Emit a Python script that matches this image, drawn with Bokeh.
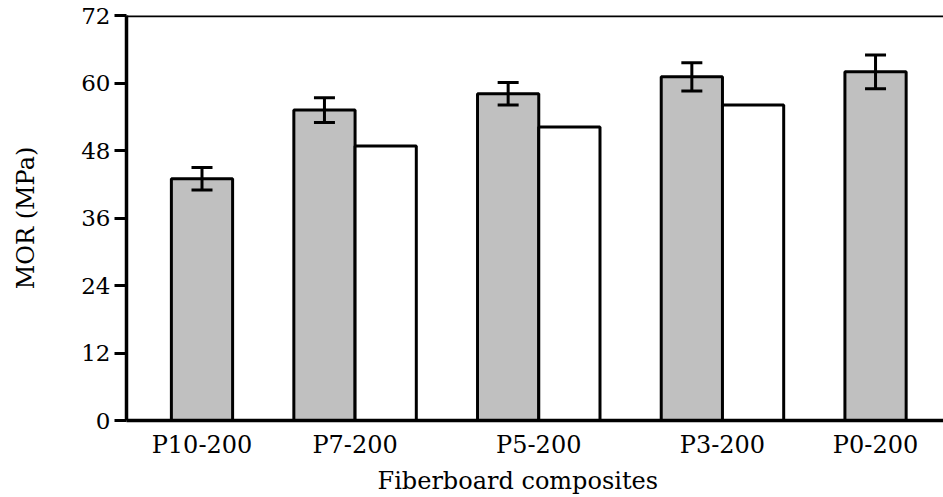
from bokeh.plotting import figure
from bokeh.models import (ColumnDataSource, Range1d, FixedTicker, Span, Whisker, TeeHead, Title)
from bokeh.embed import file_html
from bokeh.resources import INLINE

# ---- data ----
groups = ["P10-200", "P7-200", "P5-200", "P3-200", "P0-200"]
gray_values = [43.0, 55.2, 58.1, 61.1, 62.0]
gray_errors = [2.0, 2.2, 2.0, 2.5, 3.0]
white_values = [None, 48.8, 52.2, 56.1, None]
y_ticks = [0, 12, 24, 36, 48, 60, 72]

# ---- layout of bar slots (one slot per bar, one empty slot between groups) ----
gray_x, white_x, label_x = [], [], []
pos = 1.0
for g, w in zip(gray_values, white_values):
    gray_x.append(pos)
    if w is not None:
        white_x.append(pos + 1)
        label_x.append(pos + 0.5)
        pos += 3
    else:
        label_x.append(pos)
        pos += 2

white_top = [w for w in white_values if w is not None]

FONT = "DejaVu Serif"

p = figure(width=943, height=497, output_backend="svg", toolbar_location=None,
           x_range=Range1d(-0.233, 13.11), y_range=Range1d(y_ticks[0], y_ticks[-1]),
           min_border_left=126, min_border_right=0, min_border_top=15,
           min_border_bottom=77)
p.outline_line_color = None
p.xgrid.visible = False
p.ygrid.visible = False
p.background_fill_color = "white"
p.border_fill_color = "white"

gray_src = ColumnDataSource(dict(
    x=gray_x, top=gray_values,
    upper=[v + e for v, e in zip(gray_values, gray_errors)],
    lower=[v - e for v, e in zip(gray_values, gray_errors)]))
white_src = ColumnDataSource(dict(x=white_x, top=white_top))

p.vbar(x="x", top="top", bottom=0, width=1.0, source=gray_src,
       fill_color="#c0c0c0", line_color="black", line_width=3)
p.vbar(x="x", top="top", bottom=0, width=1.0, source=white_src,
       fill_color="white", line_color="black", line_width=3)

whisk = Whisker(base="x", upper="upper", lower="lower", source=gray_src,
                line_color="black", line_width=3, level="overlay",
                upper_head=TeeHead(size=21, line_width=3, line_color="black"),
                lower_head=TeeHead(size=21, line_width=3, line_color="black"))
p.add_layout(whisk)

p.add_layout(Span(location=y_ticks[-1], dimension="width",
                  line_color="black", line_width=3.5))

# y axis
ya = p.yaxis[0]
ya.ticker = FixedTicker(ticks=y_ticks)
ya.axis_label = "MOR (MPa)"
ya.axis_line_width = 3.5
ya.axis_line_color = "black"
ya.major_tick_line_width = 3
ya.major_tick_line_color = "black"
ya.major_tick_out = 12
ya.major_tick_in = 0
ya.minor_tick_line_color = None
ya.major_label_standoff = 4
ya.major_label_text_font = FONT
ya.major_label_text_font_size = "23px"
ya.major_label_text_color = "black"
ya.axis_label_text_font = FONT
ya.axis_label_text_font_size = "24px"
ya.axis_label_text_font_style = "normal"
ya.axis_label_text_color = "black"
ya.axis_label_standoff = 38

# x axis
xa = p.xaxis[0]
xa.ticker = FixedTicker(ticks=label_x)
xa.major_label_overrides = {float(x): g for x, g in zip(label_x, groups)}
xa.axis_line_width = 3.5
xa.axis_line_color = "black"
xa.major_tick_line_color = None
xa.major_tick_out = 0
xa.major_tick_in = 0
xa.minor_tick_line_color = None
xa.major_label_standoff = 10
xa.major_label_text_font = FONT
xa.major_label_text_font_size = "24px"
xa.major_label_text_color = "black"

# x-axis title, placed as in the reference (slightly left of the frame centre)
p.add_layout(Title(text="Fiberboard composites", align="left", offset=251,
                   standoff=6, text_font=FONT, text_font_size="24px",
                   text_font_style="normal", text_color="black"), "below")

open("out.html", "w").write(file_html(p, INLINE))
